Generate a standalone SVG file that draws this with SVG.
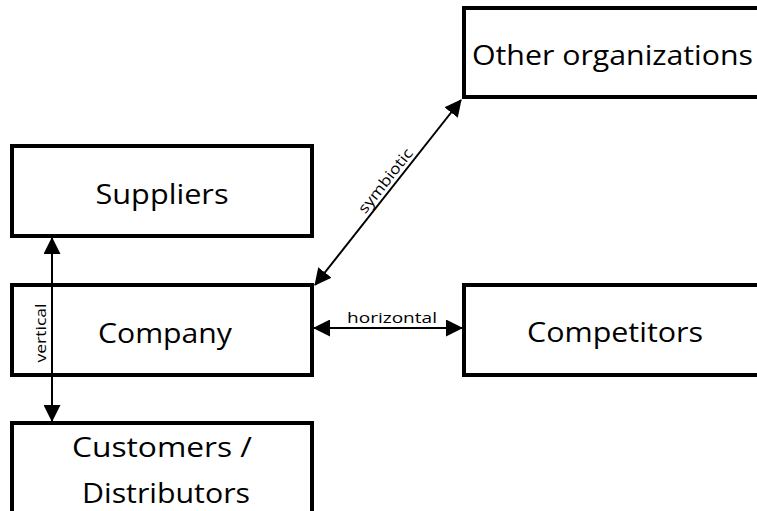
<svg xmlns="http://www.w3.org/2000/svg" width="757" height="511" viewBox="0 0 757 511">
<style>
.box{fill:#fff;stroke:#000;stroke-width:4}
.lbl{font-family:"Open Sans","Noto Sans","DejaVu Sans",sans-serif;font-size:28px;fill:#000;text-anchor:middle}
.small{font-family:"Open Sans","Noto Sans","DejaVu Sans",sans-serif;font-size:15px;fill:#000;text-anchor:middle}
.conn{stroke:#000;stroke-width:2;fill:none;marker-start:url(#ah);marker-end:url(#ah)}
</style>
<defs>
<marker id="ah" viewBox="0 0 17 17" markerWidth="17" markerHeight="17" markerUnits="userSpaceOnUse" refX="16" refY="8.5" orient="auto-start-reverse">
<path d="M0,0 L17,8.5 L0,17 z" fill="#000"/>
</marker>
</defs>
<rect width="757" height="511" fill="#fff"/>
<g id="suppliers">
<rect class="box" x="12" y="146" width="300" height="90"/>
<text class="lbl" x="162" y="204" textLength="133" lengthAdjust="spacingAndGlyphs">Suppliers</text>
</g>
<g id="company">
<rect class="box" x="12" y="285" width="300" height="90"/>
<text class="lbl" x="165" y="343" textLength="134" lengthAdjust="spacingAndGlyphs">Company</text>
</g>
<g id="customers">
<rect class="box" x="12" y="423" width="300" height="100"/>
<text class="lbl" x="162" y="457" textLength="180" lengthAdjust="spacingAndGlyphs">Customers /</text>
<text class="lbl" x="166" y="503" textLength="168" lengthAdjust="spacingAndGlyphs">Distributors</text>
</g>
<g id="other">
<rect class="box" x="464" y="8" width="300" height="89"/>
<text class="lbl" x="612.5" y="65" textLength="281" lengthAdjust="spacingAndGlyphs">Other organizations</text>
</g>
<g id="competitors">
<rect class="box" x="464" y="285" width="300" height="90"/>
<text class="lbl" x="615" y="342" textLength="176" lengthAdjust="spacingAndGlyphs">Competitors</text>
</g>
<g id="connectors">
<line class="conn" x1="52" y1="238" x2="52" y2="421"/>
<text class="small" transform="translate(46,333) rotate(-90)" textLength="59" lengthAdjust="spacingAndGlyphs">vertical</text>
<line class="conn" x1="314" y1="328" x2="462" y2="328"/>
<text class="small" x="392" y="323" textLength="90" lengthAdjust="spacingAndGlyphs">horizontal</text>
<line class="conn" x1="315" y1="285" x2="461" y2="100"/>
<text class="small" transform="translate(389.5,184) rotate(-51.7)" textLength="78" lengthAdjust="spacingAndGlyphs">symbiotic</text>
</g>
</svg>
